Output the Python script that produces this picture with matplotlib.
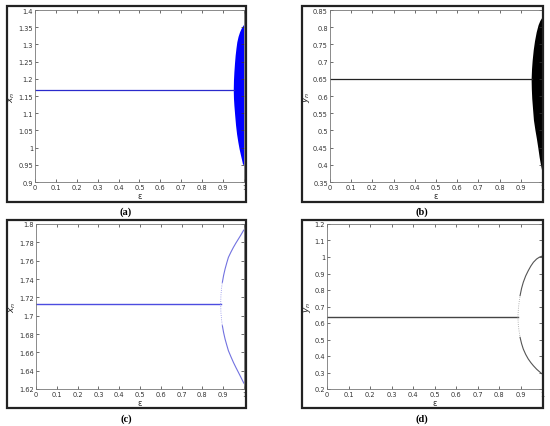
import matplotlib
matplotlib.use("Agg")
import matplotlib.pyplot as plt
import numpy as np
from matplotlib.patches import Rectangle

# (a) x_n: fixed point then blob (envelope)
a_fix = 1.166
a_start = 0.951
a_up_eps = [0.951, 0.952, 0.954, 0.957, 0.960, 0.964, 0.968, 0.974, 0.981, 0.989, 0.997, 1.0]
a_up_val = [1.166, 1.195, 1.219, 1.245, 1.267, 1.288, 1.306, 1.322, 1.335, 1.346, 1.354, 1.356]
a_lo_eps = [0.951, 0.952, 0.954, 0.958, 0.962, 0.967, 0.973, 0.979, 0.986, 0.991, 0.995, 1.0]
a_lo_val = [1.166, 1.142, 1.122, 1.092, 1.064, 1.038, 1.015, 0.995, 0.976, 0.963, 0.952, 0.948]

# (b) y_n
b_fix = 0.648
b_start = 0.951
b_up_eps = [0.951, 0.953, 0.956, 0.961, 0.967, 0.975, 0.984, 0.992, 1.0]
b_up_val = [0.648, 0.678, 0.703, 0.733, 0.759, 0.785, 0.806, 0.818, 0.826]
b_lo_eps = [0.951, 0.952, 0.954, 0.958, 0.962, 0.969, 0.976, 0.983, 0.989, 0.995, 1.0]
b_lo_val = [0.648, 0.620, 0.592, 0.560, 0.529, 0.500, 0.475, 0.447, 0.421, 0.400, 0.385]

# (c) x_n period-2 branches
c_fix = 1.7127
c_start = 0.888
c_eps = [0.888, 0.889, 0.892, 0.896, 0.902, 0.909, 0.917, 0.925, 0.937, 0.949, 0.961, 0.973, 0.985, 0.997, 1.0]
c_up = [1.7127, 1.7218, 1.7300, 1.7364, 1.7440, 1.7509, 1.7575, 1.7636, 1.7693, 1.7745, 1.7792, 1.7836, 1.7880, 1.7927, 1.7935]
c_lo = [1.7127, 1.7036, 1.6960, 1.6890, 1.6815, 1.6745, 1.6680, 1.6618, 1.6553, 1.6491, 1.6435, 1.6382, 1.6328, 1.6273, 1.6262]

# (d) y_n period-2 branches
d_fix = 0.634
d_start = 0.888
d_eps = [0.888, 0.890, 0.894, 0.898, 0.905, 0.913, 0.924, 0.936, 0.948, 0.960, 0.975, 0.988, 1.0]
d_up = [0.634, 0.685, 0.730, 0.766, 0.810, 0.847, 0.885, 0.917, 0.945, 0.968, 0.988, 0.999, 1.005]
d_lo = [0.634, 0.584, 0.546, 0.513, 0.475, 0.442, 0.410, 0.382, 0.360, 0.341, 0.320, 0.305, 0.292]

W, H = 550, 427
fig = plt.figure(figsize=(5.5, 4.27), dpi=100)


def box(l, t, r, b):
    return [l / W, 1 - b / H, (r - l) / W, (b - t) / H]


def style(ax, ylim, yticks, ylabel):
    ax.set_xlim(0, 1)
    ax.set_ylim(*ylim)
    ax.set_xticks(np.arange(0, 1.01, 0.1))
    ax.set_xticklabels(["0", "0.1", "0.2", "0.3", "0.4", "0.5", "0.6", "0.7", "0.8", "0.9", "1"])
    ax.set_yticks(yticks)
    ax.set_yticklabels([("%g" % v) for v in yticks])
    ax.tick_params(direction="in", length=2.5, width=0.5, labelsize=4.8,
                   colors="#333333", pad=1.5, top=True, right=True)
    for s in ax.spines.values():
        s.set_color("#777777")
        s.set_linewidth(0.6)
    ax.set_xlabel("ε", fontsize=6, labelpad=1, color="#333333")
    ax.set_ylabel(ylabel, fontsize=6.5, labelpad=1, color="#222222")


# outer frames
for (l, t, r, b) in [(7, 7, 246, 203), (302, 7, 543, 203), (7, 221, 246, 409), (302, 221, 543, 409)]:
    fig.patches.append(Rectangle((l / W, 1 - b / H), (r - l) / W, (b - t) / H,
                                 transform=fig.transFigure, fill=False,
                                 edgecolor="#222222", linewidth=1.6))

# (a)
ax = fig.add_axes(box(35, 11, 244, 183))
ax.plot([0, a_start], [a_fix, a_fix], color="#2a2acc", lw=0.9)
ax.fill(np.concatenate([a_up_eps, a_lo_eps[::-1]]),
        np.concatenate([a_up_val, a_lo_val[::-1]]), color="#0000ff", lw=0)
style(ax, (0.9, 1.4), np.round(np.arange(0.9, 1.401, 0.05), 2), "$x_n$")

# (b)
ax = fig.add_axes(box(330, 11, 542, 183))
ax.plot([0, b_start], [b_fix, b_fix], color="#222222", lw=0.9)
ax.fill(np.concatenate([b_up_eps, b_lo_eps[::-1]]),
        np.concatenate([b_up_val, b_lo_val[::-1]]), color="#000000", lw=0)
style(ax, (0.35, 0.85), np.round(np.arange(0.35, 0.851, 0.05), 2), "$y_n$")

# (c)
ax = fig.add_axes(box(36, 225, 244, 390))
ax.plot([0, c_start], [c_fix, c_fix], color="#4c4ce0", lw=1.0)
ax.plot(c_eps[:4], c_up[:4], color="#8a8ae8", lw=0.6, ls=":")
ax.plot(c_eps[:4], c_lo[:4], color="#8a8ae8", lw=0.6, ls=":")
ax.plot(c_eps[3:], c_up[3:], color="#7272e0", lw=0.8)
ax.plot(c_eps[3:], c_lo[3:], color="#7272e0", lw=0.8)
style(ax, (1.62, 1.8), np.round(np.arange(1.62, 1.801, 0.02), 2), "$x_n$")

# (d)
ax = fig.add_axes(box(327, 225, 542, 390))
ax.plot([0, d_start], [d_fix, d_fix], color="#444444", lw=1.0)
ax.plot(d_eps[:4], d_up[:4], color="#9a9a9a", lw=0.6, ls=":")
ax.plot(d_eps[:4], d_lo[:4], color="#9a9a9a", lw=0.6, ls=":")
ax.plot(d_eps[3:], d_up[3:], color="#555555", lw=0.8)
ax.plot(d_eps[3:], d_lo[3:], color="#555555", lw=0.8)
style(ax, (0.2, 1.2), np.round(np.arange(0.2, 1.201, 0.1), 1), "$y_n$")

# captions
for txt, x, y in [("(a)", 126, 212), ("(b)", 422, 212), ("(c)", 126, 419), ("(d)", 422, 419)]:
    fig.text(x / W, 1 - y / H, txt, ha="center", va="center",
             fontsize=7.5, fontweight="bold", family="Liberation Serif")

fig.savefig("out.png", dpi=100)
